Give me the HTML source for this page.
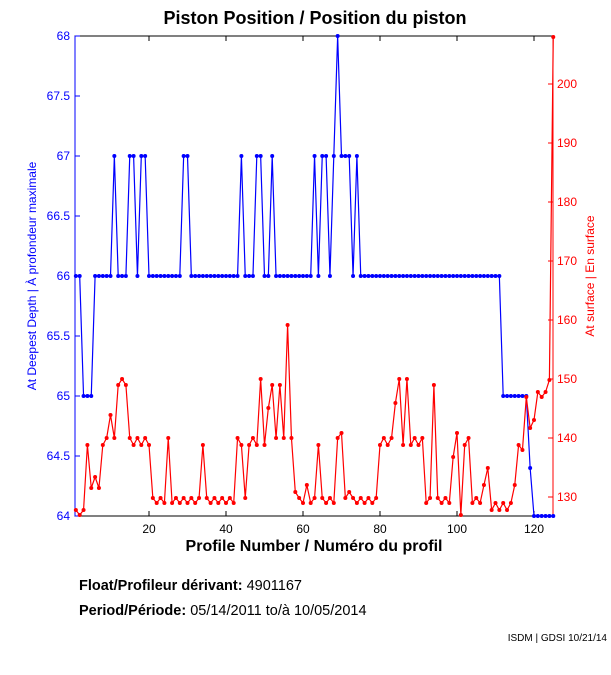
<!DOCTYPE html>
<html><head><meta charset="utf-8"><style>
html,body{margin:0;padding:0;background:#fff;width:611px;height:675px;overflow:hidden}
svg{display:block;font-family:"Liberation Sans",Arial,sans-serif}
</style></head><body>
<svg id="s" width="611" height="675" xmlns="http://www.w3.org/2000/svg">
<rect x="0" y="0" width="611" height="675" fill="#fff"/>
<text x="315" y="24" font-size="18" font-weight="bold" text-anchor="middle">Piston Position / Position du piston</text>
<rect x="75" y="36" width="478" height="480" fill="none" stroke="#000" stroke-width="1"/>
<line x1="75" y1="36" x2="75" y2="516" stroke="#00f"/>
<line x1="553" y1="36" x2="553" y2="516" stroke="#f00"/>
<g id="ticks"></g>
<g id="data"></g>
<text x="314" y="551" font-size="16" font-weight="bold" text-anchor="middle">Profile Number / Numéro du profil</text>
<text transform="translate(36,276) rotate(-90)" font-size="12" fill="#00f" text-anchor="middle">At Deepest Depth | À profondeur maximale</text>
<text transform="translate(594,276) rotate(-90)" font-size="12" fill="#f00" text-anchor="middle">At surface | En surface</text>
<text x="79" y="590" font-size="14.5"><tspan font-weight="bold">Float/Profileur dérivant:</tspan> 4901167</text>
<text x="79" y="615" font-size="14.5"><tspan font-weight="bold">Period/Période:</tspan> 05/14/2011  to/à  10/05/2014</text>
<text x="607" y="641" font-size="10" text-anchor="end">ISDM | GDSI 10/21/14</text>
</svg>
<script>
var NS="http://www.w3.org/2000/svg";
function el(t,a,p,txt){var e=document.createElementNS(NS,t);for(var k in a)e.setAttribute(k,a[k]);if(txt!=null)e.textContent=txt;p.appendChild(e);return e;}
var T=document.getElementById('ticks'),D=document.getElementById('data');
function X(i){return 72+3.85*i;}
var lv=["64","64.5","65","65.5","66","66.5","67","67.5","68"];
for(var k=0;k<9;k++){var y=516-k*60;el('line',{x1:75,y1:y,x2:80,y2:y,stroke:'#00f'},T);
el('text',{x:70,y:y+4,'font-size':12,fill:'#00f','text-anchor':'end'},T,lv[k]);}
for(var v=130;v<=200;v+=10){var y=497-(v-130)*5.9;el('line',{x1:548,y1:y,x2:553,y2:y,stroke:'#f00'},T);
el('text',{x:557,y:y+4,'font-size':12,fill:'#f00'},T,v);}
for(var v=20;v<=120;v+=20){var x=X(v);el('line',{x1:x,y1:516,x2:x,y2:511,stroke:'#000'},T);el('line',{x1:x,y1:36,x2:x,y2:41,stroke:'#000'},T);
el('text',{x:x,y:533,'font-size':12,'text-anchor':'middle'},T,v);}
var b={};for(var i=1;i<=125;i++)b[i]=66;
[3,4,5].forEach(function(i){b[i]=65});
[11,15,16,18,19,29,30,44,48,49,52,63,65,66,68,70,71,72,74].forEach(function(i){b[i]=67});
b[69]=68;for(i=112;i<=118;i++)b[i]=65;b[119]=64.4;for(i=120;i<=125;i++)b[i]=64;
var bp=[];for(i=1;i<=125;i++)bp.push([X(i),516-(b[i]-64)*120]);
var r=[0,510,515,510,445,488,477,488,445,438,415,438,385,379,385,438,445,438,445,438,445,498,503,498,503,438,503,498,503,498,503,498,503,498,445,498,503,498,503,498,503,498,503,438,445,498,445,438,445,379,445,408,385,438,385,438,325,438,492,498,503,485,503,498,445,498,503,498,503,438,433,498,492,498,503,498,503,498,503,498,445,438,445,438,403,379,445,379,445,438,445,438,503,498,385,498,503,498,503,457,433,515,445,438,503,498,503,485,468,510,503,510,503,510,503,485,445,450,397,428,420,392,397,392,380,37];
var rp=[];for(i=1;i<=125;i++)rp.push([X(i),r[i]]);
function draw(pts,c){el('polyline',{points:pts.map(function(p){return p.join(',')}).join(' '),fill:'none',stroke:c,'stroke-width':1.2},D);
pts.forEach(function(p){el('circle',{cx:p[0],cy:p[1],r:2,fill:c},D);});}
draw(bp,'#00f');draw(rp,'#f00');
</script>
</body></html>
